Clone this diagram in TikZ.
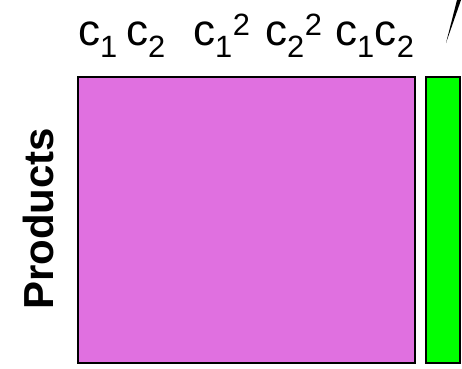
\documentclass[tikz,border=0pt]{standalone}
\usepackage{fontspec}
\setmainfont{Liberation Sans}
\usepackage{xcolor}
\usetikzlibrary{positioning}
\definecolor{matpink}{RGB}{224,112,224}
\definecolor{matgreen}{RGB}{0,255,0}
\tikzset{
  matbox/.style={draw=black,line width=2pt},
  hdr/.style={inner sep=0pt,anchor=base west,font=\fontsize{44}{50}\selectfont}
}
\begin{document}
\begin{tikzpicture}[x=1pt,y=-1pt]
    \useasboundingbox (0,0) rectangle (462,368);
    % Matrices
    \draw[matbox,fill=matpink] (78,77) rectangle (415,363);
    \draw[matbox,fill=matgreen] (426,77) rectangle (460,363);
    % Column header
    \node[hdr] (c1) at (78,45) {c\textsubscript{1}};
    \node[hdr] (c2) at (126,45) {c\textsubscript{2}};
    \node[hdr] (c11) at (193,45) {c\textsubscript{1}\textsuperscript{2}};
    \node[hdr] (c22) at (265,45) {c\textsubscript{2}\textsuperscript{2}};
    \node[hdr] (c12) at (335,45) {c\textsubscript{1}c\textsubscript{2}};
    % Row label
    \node[inner sep=0pt,rotate=90,anchor=base west,font=\fontsize{42}{48}\selectfont\bfseries] (rows) at (53,310) {Products};
    % Pointer
    \coordinate (tip) at (446,43);
    \fill (tip) -- (457,0) -- (461,0) -- cycle;
\end{tikzpicture}
\end{document}
